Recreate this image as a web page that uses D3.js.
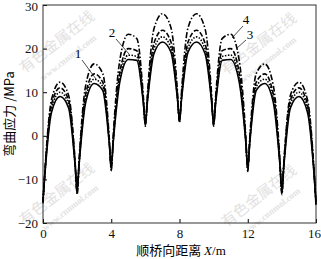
<!DOCTYPE html>
<html>
<head>
<meta charset="utf-8">
<script src="https://cdn.jsdelivr.net/npm/d3@7"></script>
<style>
  body { margin: 0; background: #fff; }
  svg { display: block; }
</style>
</head>
<body>
<svg id="chart"></svg>
<script>
// distance along bridge (m), shared by all four curves
const xs = [0,0.12,0.5,1,1.5,1.88, 2,2.12,2.5,3,3.5,3.88, 4,4.12,4.5,5,5.5,5.88,
  6,6.12,6.5,7,7.5,7.88, 8,8.12,8.5,9,9.5,9.88, 10,10.12,10.5,11,11.5,11.88,
  12,12.12,12.5,13,13.5,13.88, 14,14.12,14.5,15,15.5,15.88, 16]

// bending stress (MPa)
const curve1 = [-14.8,-8.4,5.4,9,6.4,-6.7, -12.2,-6.4,7.6,12,10.4,-1.6, -6.9,-1.3,12.3,17.5,17.3,7.5,
  3.0,7.8,18.8,21.5,19.2,8.4, 3.7,8.4,19.2,21.5,18.8,7.8, 3.0,7.5,17.3,17.5,12.3,-1.3,
  -7.1,-1.6,10.4,12,7.6,-6.4, -12.2,-6.7,6.4,9,5.4,-8.5, -15.2]
const curve2 = [-15,-8.2,6.3,10,7.3,-6.4, -12.6,-6.2,8.5,13,11.3,-1.3, -7.2,-1.0,13.2,18.5,18.2,7.8,
  2.8,8.1,19.9,22.7,20.2,8.7, 3.5,8.7,20.2,22.7,19.9,8.1, 2.8,7.8,18.2,18.5,13.2,-1.0,
  -7.4,-1.3,11.3,13,8.5,-6.2, -12.6,-6.4,7.3,10,6.3,-8.3, -15.4]
const curve3 = [-15.2,-7.9,7.2,11,8.2,-6.1, -13,-5.8,9.5,14.2,12.3,-1.0, -7.5,-0.6,14.5,20,19.5,8.2,
  2.5,8.5,21.2,24.2,21.5,9.1, 3.3,9.1,21.5,24.2,21.2,8.5, 2.5,8.2,19.5,20,14.5,-0.6,
  -7.7,-1.0,12.3,14.2,9.5,-5.8, -13,-6.1,8.2,11,7.2,-8.0, -15.6]
const curve4 = [-15.5,-7.5,8.3,12.3,9.3,-5.8, -13.5,-5.2,11.5,16.5,14.3,-0.3, -8,0.3,17.3,23.3,22.3,9.1,
  2.2,9.6,24.5,28,24.8,10.2, 3.0,10.2,24.8,28,24.5,9.6, 2.2,9.1,22.3,23.3,17.3,0.2,
  -8.2,-0.3,14.3,16.5,11.5,-5.2, -13.5,-5.8,9.3,12.3,8.3,-7.6, -16]

const xTicks = [0, 4, 8, 12, 16]
const yTicks = [-20, -10, 0, 10, 20, 30]

const width = 321
const height = 259
const margin = ({top: 5, right: 5, bottom: 36, left: 43})

const svg = d3.select("#chart")
    .attr("width", width)
    .attr("height", height)

const x = d3.scaleLinear()
    .domain([0, 16])
    .range([margin.left, width - margin.right])

const y = d3.scaleLinear()
    .domain([-20, 30])
    .range([height - margin.bottom, margin.top])

// faint watermark
const marks = [
    {cx: 60, cy: 46, wx: 70, wy: 60},
    {cx: 262, cy: 48, wx: 270, wy: 62},
    {cx: 60, cy: 198, wx: 72, wy: 210},
    {cx: 262, cy: 200, wx: 274, wy: 213}
]
const wm = svg.append("g").attr("fill", "#e2e2e2")
marks.forEach(m => {
    wm.append("text")
        .attr("transform", `translate(${m.cx},${m.cy}) rotate(-38)`)
        .attr("text-anchor", "middle")
        .attr("font-family", "Noto Sans CJK SC")
        .attr("font-size", 15)
        .text("有色金属在线")
    wm.append("text")
        .attr("transform", `translate(${m.wx},${m.wy}) rotate(-38)`)
        .attr("text-anchor", "middle")
        .attr("font-family", "Liberation Serif")
        .attr("font-weight", "bold")
        .attr("font-size", 9)
        .text("www.cnnmol.com")
})

const font = "Liberation Serif"

const xAxis = g => g
    .attr("transform", `translate(0,${height - margin.bottom})`)
    .call(d3.axisBottom(x).tickValues(xTicks).tickSizeInner(-4).tickSizeOuter(0).tickPadding(6))
    .call(g => g.select(".domain").remove())
    .call(g => g.selectAll("text").attr("font-family", font).attr("font-size", 13).attr("fill", "#111"))
    .call(g => g.selectAll("text").filter(d => d === 16).attr("dx", -2))

const yAxis = g => g
    .attr("transform", `translate(${margin.left},0)`)
    .call(d3.axisLeft(y).tickValues(yTicks).tickSizeInner(-4).tickSizeOuter(0).tickPadding(5))
    .call(g => g.select(".domain").remove())
    .call(g => g.selectAll("text").attr("font-family", font).attr("font-size", 13).attr("fill", "#111"))
    .call(g => g.selectAll("text").filter(d => d === 30).attr("dy", "0.45em"))

svg.append("g").call(xAxis)
svg.append("g").call(yAxis)

// frame
svg.append("rect")
    .attr("x", margin.left)
    .attr("y", margin.top)
    .attr("width", width - margin.left - margin.right)
    .attr("height", height - margin.top - margin.bottom)
    .attr("fill", "none")
    .attr("stroke", "#333")
    .attr("stroke-width", 1)

const lineGenerator = d3.line()
    .x((d, i) => x(xs[i]))
    .y(d => y(d))
    .curve(d3.curveMonotoneX)

const series = [
    {values: curve1, dash: null},
    {values: curve2, dash: "1.5,1.5"},
    {values: curve3, dash: "5,2"},
    {values: curve4, dash: "6,2,1.5,2"}
]

svg.append("g")
    .selectAll("path")
    .data(series)
    .join("path")
    .attr("d", d => lineGenerator(d.values))
    .attr("fill", "none")
    .attr("stroke", "#000")
    .attr("stroke-width", 1.6)
    .attr("stroke-dasharray", d => d.dash)

// curve labels with leader lines
const labels = [
    {t: "1", lx: 78, ly: 58, x1: 82, y1: 60, x2: 96, y2: 79},
    {t: "2", lx: 112, ly: 37, x1: 116, y1: 39, x2: 129, y2: 54},
    {t: "4", lx: 246, ly: 24, x1: 243, y1: 26, x2: 232, y2: 38},
    {t: "3", lx: 250, ly: 39, x1: 246, y1: 40, x2: 237, y2: 48}
]
const lab = svg.append("g")
lab.selectAll("line")
    .data(labels)
    .join("line")
    .attr("x1", d => d.x1).attr("y1", d => d.y1)
    .attr("x2", d => d.x2).attr("y2", d => d.y2)
    .attr("stroke", "#222")
    .attr("stroke-width", 0.8)
lab.selectAll("text")
    .data(labels)
    .join("text")
    .attr("x", d => d.lx)
    .attr("y", d => d.ly)
    .attr("text-anchor", "middle")
    .attr("font-family", font)
    .attr("font-size", 13)
    .text(d => d.t)

// axis titles
svg.append("text")
    .attr("transform", `translate(14,${(margin.top + height - margin.bottom) / 2}) rotate(-90)`)
    .attr("text-anchor", "middle")
    .attr("font-family", "Noto Sans CJK SC")
    .attr("font-size", 13)
    .text("弯曲应力 /MPa")

const xt = svg.append("text")
    .attr("x", 181)
    .attr("y", 255)
    .attr("text-anchor", "middle")
    .attr("font-family", "Noto Sans CJK SC")
    .attr("font-size", 13)
xt.append("tspan").text("顺桥向距离 ")
xt.append("tspan").attr("font-family", font).attr("font-style", "italic").text("X")
xt.append("tspan").attr("font-family", font).text("/m")
</script>
</body>
</html>
